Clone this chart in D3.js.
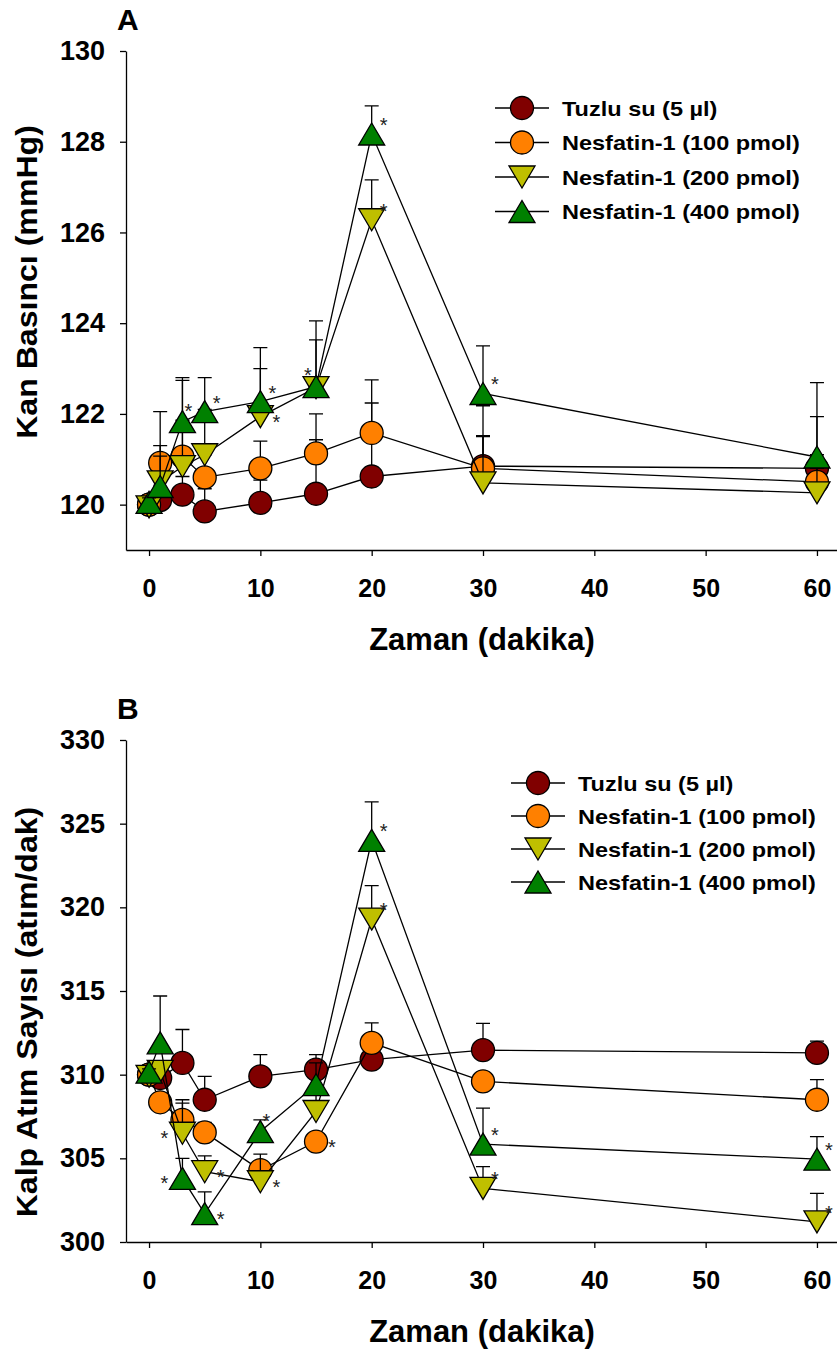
<!DOCTYPE html>
<html>
<head>
<meta charset="utf-8">
<script src="https://cdn.jsdelivr.net/npm/d3@7"></script>
<style>
body { margin: 0; background: #fff; }
text { font-family: "Liberation Sans", Arial, sans-serif; }
</style>
</head>
<body>
<div id="chart"></div>
<script>
// time points (minutes)
var times = [0, 1, 3, 5, 10, 15, 20, 30, 60];
var xTicks = [0, 10, 20, 30, 40, 50, 60];

var seriesNames = ["Tuzlu su (5 µl)", "Nesfatin-1 (100 pmol)", "Nesfatin-1 (200 pmol)", "Nesfatin-1 (400 pmol)"];
var seriesColors = ["#800000", "#ff8000", "#bfbf00", "#008000"];
var seriesShapes = ["circle", "circle", "down", "up"];

// panel A - blood pressure (mmHg)
var bpTicks = [120, 122, 124, 126, 128, 130];
var bpSaline = [120.0, 120.1, 120.22, 119.85, 120.04, 120.24, 120.62, 120.85, 120.8];
var bp100 = [120.0, 120.92, 121.06, 120.6, 120.8, 121.13, 121.58, 120.8, 120.5];
var bp200 = [119.95, 120.5, 120.84, 121.1, 121.94, 122.58, 126.28, 120.48, 120.26];
var bp400 = [120.05, 120.4, 121.83, 122.05, 122.27, 122.6, 128.17, 122.45, 121.05];
var bpSalineErr = [0.1, 0.2, 0.4, 0.5, 0.5, 1.19, 1.62, 0.67, 0.3];
var bp100Err = [0.1, 1.13, 0.8, 0.5, 0.6, 0.87, 1.17, 0.7, 0.3];
var bp200Err = [0.1, 0.57, 1.9, 1.0, 1.06, 1.05, 0.88, 1.7, 1.68];
var bp400Err = [0.1, 0.9, 0.97, 0.75, 1.19, 1.45, 0.62, 1.05, 1.64];
// significance marks: "" none, otherwise side of the marker
var bpSalineSig = ["", "", "", "", "", "", "", "", ""];
var bp100Sig = ["", "", "", "", "", "", "", "", ""];
var bp200Sig = ["", "", "", "", "e", "", "ne", "", ""];
var bp400Sig = ["", "", "n", "ne", "ne", "nw", "ne", "ne", ""];

// panel B - heart rate (beats/min)
var hrTicks = [300, 305, 310, 315, 320, 325, 330];
var hrSaline = [310.0, 309.8, 310.7, 308.5, 309.9, 310.3, 310.9, 311.47, 311.3];
var hr100 = [310.0, 308.35, 307.3, 306.55, 304.3, 306.0, 311.9, 309.6, 308.5];
var hr200 = [309.9, 310.2, 306.5, 304.2, 303.6, 307.8, 319.3, 303.2, 301.2];
var hr400 = [310.15, 311.9, 303.8, 301.7, 306.6, 309.4, 324.0, 305.85, 304.95];
var hrSalineErr = [0.2, 0.3, 2.0, 1.4, 1.3, 0.9, 0.5, 1.6, 0.7];
var hr100Err = [0.2, 0.4, 1.2, 0.6, 0.5, 0.4, 1.2, 0.5, 1.2];
var hr200Err = [0.2, 0.3, 1.8, 0.95, 1.65, 1.2, 2.0, 1.3, 1.7];
var hr400Err = [0.2, 2.8, 1.2, 1.3, 0.7, 1.3, 2.3, 2.15, 1.35];
var hrSalineSig = ["", "", "", "", "", "", "", "", ""];
var hr100Sig = ["", "", "", "", "", "e", "", "", ""];
var hr200Sig = ["", "", "w", "e", "e", "", "ne", "ne", "ne"];
var hr400Sig = ["", "", "w", "e", "n", "", "ne", "ne", "ne"];

var W = 837, H = 1353;
var svg = d3.select("#chart").append("svg")
    .attr("width", W)
    .attr("height", H);

var x = d3.scaleLinear().domain([-2.07, 61.8]).range([126, 837]);

var starOffset = { n: [6, -16], ne: [12, -14], e: [16, 0], w: [-18, 0], nw: [-8, -17] };

function shapePath(shape) {
    if (shape == "up") return "M0,-11L13,11L-13,11Z";
    if (shape == "down") return "M0,11L13,-11L-13,-11Z";
    return d3.symbol().type(d3.symbolCircle).size(Math.PI * 11.5 * 11.5)();
}

function drawPanel(opt) {
    var y = d3.scaleLinear().domain(opt.domain).range(opt.range);
    var g = svg.append("g");
    var bottom = opt.range[0];

    // axes
    var yAxis = g.append("g")
        .attr("transform", "translate(126,0)")
        .call(d3.axisLeft(y).tickValues(opt.ticks).tickSize(6).tickPadding(15).tickSizeOuter(0));
    var xAxis = g.append("g")
        .attr("transform", `translate(0,${bottom})`)
        .call(d3.axisBottom(x).tickValues(xTicks).tickSize(6).tickPadding(23).tickSizeOuter(0));
    [yAxis, xAxis].forEach(a => {
        a.selectAll("text").attr("font-weight", "bold")
            .attr("font-family", "'Liberation Sans', Arial, sans-serif").attr("fill", "#000");
        a.selectAll("path, line").attr("stroke", "#000").attr("stroke-width", 1.3);
    });
    yAxis.selectAll("text").attr("font-size", 27);
    xAxis.selectAll("text").attr("font-size", 25);

    g.append("text")
        .attr("x", 482).attr("y", bottom + 100)
        .attr("text-anchor", "middle")
        .attr("font-size", 31).attr("font-weight", "bold")
        .text("Zaman (dakika)");
    g.append("text")
        .attr("transform", `translate(37,${opt.titleY}) rotate(-90) scale(1.07,1)`)
        .attr("text-anchor", "middle")
        .attr("font-size", 30).attr("font-weight", "bold")
        .text(opt.yTitle);
    g.append("text")
        .attr("x", 117).attr("y", opt.range[1] - 21)
        .attr("font-size", 30).attr("font-weight", "bold")
        .text(opt.letter);

    // series
    opt.series.forEach((vals, si) => {
        var sg = g.append("g");
        var pts = times.map((t, i) => ({ t: t, v: vals[i], e: opt.errs[si][i], s: opt.sigs[si][i] }));
        // error bars (upper)
        sg.selectAll(".eb").data(pts).enter().append("path")
            .attr("d", d => {
                var px = x(d.t), y0 = y(d.v), y1 = y(d.v + d.e);
                return `M${px},${y0}V${y1}M${px - 7},${y1}H${px + 7}`;
            })
            .attr("fill", "none").attr("stroke", "#000").attr("stroke-width", 1.3);
        sg.append("path")
            .datum(pts)
            .attr("d", d3.line().x(d => x(d.t)).y(d => y(d.v)))
            .attr("fill", "none").attr("stroke", "#000").attr("stroke-width", 1.3);
        sg.selectAll(".mk").data(pts).enter().append("path")
            .attr("transform", d => `translate(${x(d.t)},${y(d.v)})`)
            .attr("d", shapePath(seriesShapes[si]))
            .attr("fill", seriesColors[si]).attr("stroke", "#000").attr("stroke-width", 1.3);
        sg.selectAll(".st").data(pts.filter(d => d.s)).enter().append("text")
            .attr("x", d => x(d.t) + starOffset[d.s][0])
            .attr("y", d => y(d.v) + starOffset[d.s][1] + 12)
            .attr("text-anchor", "middle")
            .attr("font-size", 20).attr("fill", "#222")
            .text("*");
    });

    // legend
    var lg = g.append("g");
    seriesNames.forEach((name, i) => {
        var ly = opt.legendY + i * opt.legendStep;
        var cx = opt.legendX;
        lg.append("line").attr("x1", cx - 27).attr("x2", cx + 27).attr("y1", ly).attr("y2", ly)
            .attr("stroke", "#000").attr("stroke-width", 1.3);
        lg.append("path").attr("transform", `translate(${cx},${ly})`)
            .attr("d", shapePath(seriesShapes[i]))
            .attr("fill", seriesColors[i]).attr("stroke", "#000").attr("stroke-width", 1.3);
        lg.append("text").attr("transform", `translate(${cx + 40},${ly + 7.5}) scale(1.12,1)`)
            .attr("font-size", 21).attr("font-weight", "bold")
            .text(name);
    });
}

drawPanel({
    domain: [119, 130], range: [550, 51], ticks: bpTicks,
    series: [bpSaline, bp100, bp200, bp400],
    errs: [bpSalineErr, bp100Err, bp200Err, bp400Err],
    sigs: [bpSalineSig, bp100Sig, bp200Sig, bp400Sig],
    yTitle: "Kan Basıncı (mmHg)", titleY: 282, letter: "A",
    legendX: 522, legendY: 108, legendStep: 34.5
});

drawPanel({
    domain: [300, 330], range: [1242, 740], ticks: hrTicks,
    series: [hrSaline, hr100, hr200, hr400],
    errs: [hrSalineErr, hr100Err, hr200Err, hr400Err],
    sigs: [hrSalineSig, hr100Sig, hr200Sig, hr400Sig],
    yTitle: "Kalp Atım Sayısı (atım/dak)", titleY: 1012, letter: "B",
    legendX: 538, legendY: 783, legendStep: 33
});
</script>
</body>
</html>
